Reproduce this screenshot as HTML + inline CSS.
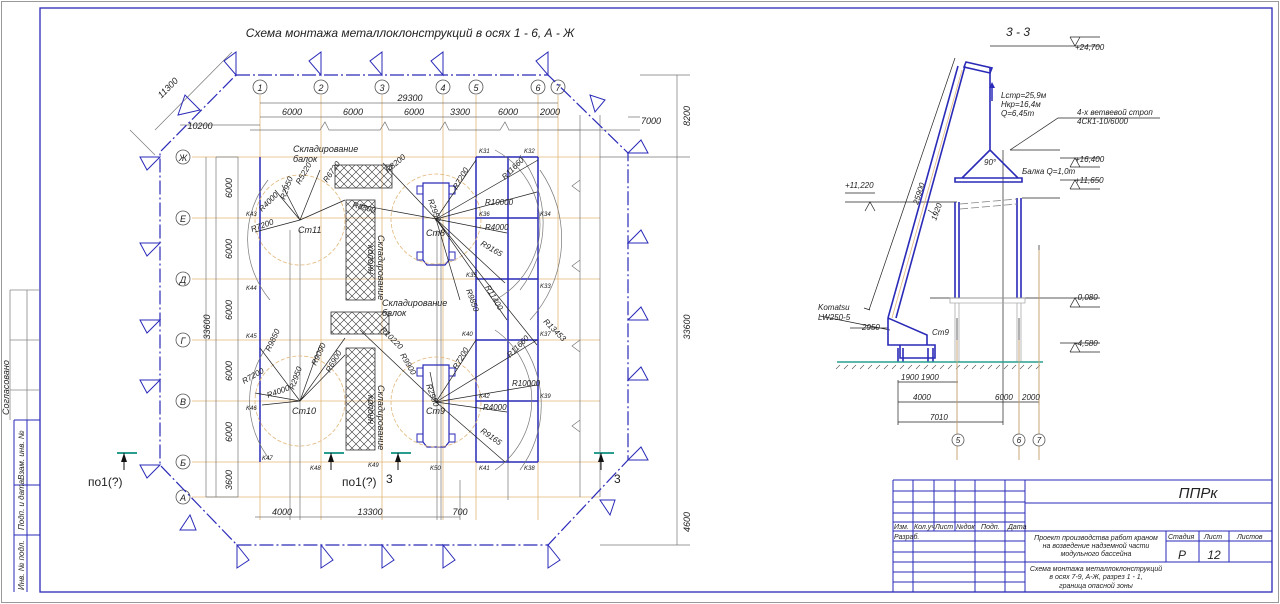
<!DOCTYPE html>
<html><head><meta charset="utf-8"><style>
html,body{margin:0;padding:0;background:#fff}
svg{display:block}
text{font-family:"Liberation Sans","DejaVu Sans",sans-serif;font-style:italic;fill:#222}
.b{stroke:#2a2ab8;fill:none}
.g{stroke:#777;fill:none;stroke-width:0.7}
.o{stroke:#e2b77a;fill:none;stroke-width:0.8}
.k{stroke:#222;fill:none;stroke-width:0.7}
</style></head><body>
<svg width="1280" height="604" viewBox="0 0 1280 604" xmlns="http://www.w3.org/2000/svg">
<defs>
<pattern id="h" width="8" height="8" patternUnits="userSpaceOnUse"><path d="M0 0L8 8M8 0L0 8" stroke="#333" stroke-width="0.6"/></pattern>
</defs>
<rect x="1.5" y="1.5" width="1277" height="601" fill="none" stroke="#999"/>
<rect x="40" y="8" width="1232" height="584" class="b" stroke-width="1.3"/>
<!-- left strip -->
<g stroke="#888" fill="none" stroke-width="0.8"><path d="M10 290H40M10 290V420M27 290V420M10 340H40M10 390H40"/></g>
<g class="b" stroke-width="1"><path d="M14 420H40M14 420V592M27 420V592M14 485H40M14 535H40"/></g>
<text transform="translate(9,415) rotate(-90)" font-size="9">Согласовано</text>
<text transform="translate(24,480) rotate(-90)" font-size="8">Взам. инв. №</text>
<text transform="translate(24,530) rotate(-90)" font-size="8">Подп. и дата</text>
<text transform="translate(24,590) rotate(-90)" font-size="8">Инв. № подл.</text>

<!-- title -->
<text x="410" y="37" font-size="12" text-anchor="middle">Схема монтажа металлоклонструкций в осях 1 - 6, А - Ж</text>

<!-- axis grid orange -->
<g class="o">
<path d="M260 95V520M321 95V520M382 95V520M443 95V520M476 95V520M538 95V520M558 95V330"/>
<path d="M192 157H600M192 218H600M192 279H600M192 340H600M192 401H600M192 462H600M192 497H600"/>
</g>
<!-- grey grid lines -->
<g class="g">
<path d="M216 157V497M238 157V497M290 230V520M300 230V520M437 230V520M441 230V520M460 480V520M508 160V500"/>
<path d="M580 115V497M600 115V497"/>
<path d="M580 180l-8 6 8 6M580 260l-8 6 8 6M580 340l-8 6 8 6M580 420l-8 6 8 6"/>
<path d="M250 130H320l5-8 4 8H380l5-8 4 8H440l5-8 4 8H500l5-8 4 8H580"/>
<path d="M260 103H558M260 117H558M180 125H260M558 130H640M628 117H640"/>
<path d="M206 157V497M216 157H238M206 497H238M677 75V157M677 157V497M677 497V545M640 75H690M600 157H690M600 545H690"/>
<path d="M255 517H460"/>
<path d="M155 130L232 52M130 130L155 155"/>
</g>
<!-- axis circles -->
<g stroke="#555" fill="#fff" stroke-width="0.8">
<circle cx="260" cy="87" r="7"/><circle cx="321" cy="87" r="7"/><circle cx="382" cy="87" r="7"/><circle cx="443" cy="87" r="7"/><circle cx="476" cy="87" r="7"/><circle cx="538" cy="87" r="7"/><circle cx="558" cy="87" r="7"/>
<circle cx="183" cy="157" r="7"/><circle cx="183" cy="218" r="7"/><circle cx="183" cy="279" r="7"/><circle cx="183" cy="340" r="7"/><circle cx="183" cy="401" r="7"/><circle cx="183" cy="462" r="7"/><circle cx="183" cy="497" r="7"/>
</g>
<g font-size="9" text-anchor="middle">
<text x="260" y="91">1</text><text x="321" y="91">2</text><text x="382" y="91">3</text><text x="443" y="91">4</text><text x="476" y="91">5</text><text x="538" y="91">6</text><text x="558" y="91">7</text>
<text x="183" y="161">Ж</text><text x="183" y="222">Е</text><text x="183" y="283">Д</text><text x="183" y="344">Г</text><text x="183" y="405">В</text><text x="183" y="466">Б</text><text x="183" y="501">А</text>
</g>
<!-- dimension text -->
<g font-size="9" text-anchor="middle">
<text x="410" y="101">29300</text>
<text x="292" y="115">6000</text><text x="353" y="115">6000</text><text x="414" y="115">6000</text><text x="460" y="115">3300</text><text x="508" y="115">6000</text><text x="550" y="115">2000</text>
<text x="200" y="129">10200</text><text x="651" y="124">7000</text>
<text transform="translate(170,90) rotate(-45)">11300</text>
<text transform="translate(690,116) rotate(-90)">8200</text>
<text transform="translate(210,327) rotate(-90)">33600</text>
<text transform="translate(690,327) rotate(-90)">33600</text>
<text transform="translate(690,522) rotate(-90)">4600</text>
<text transform="translate(232,188) rotate(-90)">6000</text><text transform="translate(232,249) rotate(-90)">6000</text><text transform="translate(232,310) rotate(-90)">6000</text><text transform="translate(232,371) rotate(-90)">6000</text><text transform="translate(232,432) rotate(-90)">6000</text><text transform="translate(232,480) rotate(-90)">3600</text>
<text x="282" y="515">4000</text><text x="370" y="515">13300</text><text x="460" y="515">700</text>
</g>

<!-- danger boundary -->
<g class="b" stroke-width="1.2" stroke-dasharray="14 3 2 3">
<path d="M236 75H548L628 153V460L548 545H237L160 465V152Z"/>
</g>
<g class="b" stroke-width="1">
<path d="M236 75V52L224 61Z M321 75V52L309 61Z M382 75V52L370 61Z M443 75V52L431 61Z M548 75V52L536 61Z"/>
<path d="M237 545V568L249 560Z M321 545V568L333 560Z M382 545V568L394 560Z M443 545V568L455 560Z M548 545V568L560 560Z"/>
<path d="M160 157H140L147 170Z M160 243H140L147 256Z M160 320H140L147 333Z M160 380H140L147 393Z M160 465H140L147 478Z"/>
<path d="M628 153H648L641 140Z M628 243H648L641 230Z M628 320H648L641 307Z M628 380H648L641 367Z M628 460H648L641 447Z"/>
<path d="M200 110L185 95L178 115Z M190 515L180 530L196 530Z M605 100L590 95L595 112Z M610 515L600 500L615 500Z"/>
</g>

<!-- building blue -->
<g class="b" stroke-width="1.5">
<path d="M260 157V462M476 157V462M508 157V462M538 157V462M476 157H538M476 218H538M476 279H538M476 340H538M476 401H538M476 462H538"/>
<path d="M423 183H449V260L445 265H427L423 260Z M423 365H449V442L445 447H427L423 442Z" stroke-width="1.2"/>
<path d="M417 186h6v8h-6zM449 186h6v8h-6zM417 252h6v8h-6zM449 252h6v8h-6zM417 368h6v8h-6zM449 368h6v8h-6zM417 434h6v8h-6zM449 434h6v8h-6z" stroke-width="1"/>
</g>
<!-- storage hatched -->
<g stroke="#333" stroke-width="0.8">
<rect x="335" y="165" width="57" height="23" fill="url(#h)"/>
<rect x="346" y="200" width="29" height="100" fill="url(#h)"/>
<rect x="331" y="312" width="58" height="22" fill="url(#h)"/>
<rect x="346" y="348" width="29" height="102" fill="url(#h)"/>
</g>
<!-- crane radii circles -->
<g class="o" stroke-dasharray="4 2">
<circle cx="300" cy="220" r="45"/><circle cx="436" cy="219" r="45"/><circle cx="300" cy="401" r="45"/><circle cx="436" cy="402" r="45"/>
</g>
<g class="g">
<path d="M268 180A95 95 0 0 0 270 300M268 345A95 95 0 0 0 270 460"/>
<path d="M495 150A85 85 0 0 1 495 300M520 155A110 110 0 0 1 520 290M540 170A120 120 0 0 1 530 320"/>
<path d="M495 330A85 85 0 0 1 495 470M520 340A110 110 0 0 1 520 470"/>
</g>
<!-- radius lines -->
<g class="k">
<path d="M300 220L255 232M300 220L275 190M300 220L282 185M300 220L320 170M300 220L345 200"/>
<path d="M436 219L383 163M436 219L476 160M436 219L538 160M436 219L537 192M436 219L507 233M436 219L505 283M436 219L460 300M436 219L507 320M436 219L537 345M436 219L360 205"/>
<path d="M300 401L260 348M300 401L255 393M300 401L262 405M300 401L345 338M300 401L345 355M300 401L320 345"/>
<path d="M436 402L360 330M436 402L476 340M436 402L537 340M436 402L537 385M436 402L507 412M436 402L505 462M436 402L430 372"/>
</g>
<!-- small radius labels -->
<g font-size="8">
<text transform="translate(252,232) rotate(-20)">R7200</text>
<text transform="translate(262,212) rotate(-45)">R4000</text>
<text transform="translate(285,200) rotate(-70)">R2950</text>
<text transform="translate(300,185) rotate(-60)">R5220</text>
<text transform="translate(327,183) rotate(-55)">R6720</text>
<text transform="translate(388,173) rotate(-40)">R8200</text>
<text transform="translate(352,207) rotate(15)">R8800</text>
<text transform="translate(457,190) rotate(-60)">R7200</text>
<text transform="translate(505,180) rotate(-45)">R11660</text>
<text transform="translate(485,205)">R10000</text>
<text transform="translate(485,230)">R4000</text>
<text transform="translate(480,245) rotate(30)">R9165</text>
<text transform="translate(466,290) rotate(70)">R9850</text>
<text transform="translate(485,287) rotate(60)">R11400</text>
<text transform="translate(543,322) rotate(45)">R13453</text>
<text transform="translate(270,352) rotate(-65)">R9850</text>
<text transform="translate(244,384) rotate(-30)">R7200</text>
<text transform="translate(268,398) rotate(-20)">R4000</text>
<text transform="translate(294,390) rotate(-70)">R2950</text>
<text transform="translate(316,366) rotate(-65)">R9090</text>
<text transform="translate(330,373) rotate(-60)">R6900</text>
<text transform="translate(380,330) rotate(45)">R10220</text>
<text transform="translate(400,355) rotate(60)">R9900</text>
<text transform="translate(457,370) rotate(-60)">R7200</text>
<text transform="translate(510,358) rotate(-45)">R11660</text>
<text transform="translate(512,386)">R10000</text>
<text transform="translate(483,410)">R4000</text>
<text transform="translate(480,432) rotate(35)">R9165</text>
<text transform="translate(428,200) rotate(70)">R2950</text>
<text transform="translate(426,385) rotate(70)">R2950</text>
</g>
<g font-size="9">
<text x="298" y="233">Ст11</text><text x="426" y="236">Ст8</text><text x="292" y="414">Ст10</text><text x="426" y="414">Ст9</text>
<text x="293" y="152">Складирование</text><text x="293" y="162">балок</text>
<text x="382" y="306">Складирование</text><text x="382" y="316">балок</text>
<text transform="translate(378,235) rotate(90)">Складирование</text><text transform="translate(368,245) rotate(90)">колонн</text>
<text transform="translate(378,385) rotate(90)">Складирование</text><text transform="translate(368,395) rotate(90)">колонн</text>
</g>
<g font-size="6">
<text x="479" y="153">K31</text><text x="524" y="153">K32</text><text x="479" y="216">K36</text><text x="540" y="216">K34</text><text x="466" y="277">K35</text><text x="540" y="288">K33</text>
<text x="462" y="336">K40</text><text x="540" y="336">K37</text><text x="479" y="398">K42</text><text x="540" y="398">K39</text><text x="479" y="470">K41</text><text x="524" y="470">K38</text>
<text x="246" y="216">K43</text><text x="246" y="290">K44</text><text x="246" y="338">K45</text><text x="246" y="410">K46</text><text x="262" y="460">K47</text><text x="310" y="470">K48</text><text x="368" y="467">K49</text><text x="430" y="470">K50</text>
</g>
<!-- section markers -->
<g stroke="#2a9d8f" stroke-width="2"><path d="M117 453H137M324 453H344M391 453H411M594 453H614"/></g>
<g stroke="#111" stroke-width="1"><path d="M124 453V470M331 453V470M398 453V470M601 453V470"/></g>
<g fill="#111"><path d="M124 453l-3 9h6zM331 453l-3 9h6zM398 453l-3 9h6zM601 453l-3 9h6z"/></g>
<g font-size="12" font-style="normal"><text x="88" y="486" style="font-style:normal">по1(?)</text><text x="342" y="486" style="font-style:normal">по1(?)</text><text x="386" y="483" style="font-style:normal">3</text><text x="614" y="483" style="font-style:normal">3</text></g>

<!-- SECTION 3-3 -->
<text x="1018" y="36" font-size="12" text-anchor="middle">3 - 3</text>
<g class="k">
<path d="M1060 46H1100M1060 158H1100M1060 180H1100M1060 298H1100M1060 343H1100M1060 46H990M1010 150H1060M1022 198H1060M930 298H1060M845 202H957"/>
<path d="M1070 37l5 9 5-9M1070 167l5-9 5 9M1070 189l5-9 5 9M1070 307l5-9 5 9M1070 352l5-9 5 9M865 211l5-9 5 9"/>
<path d="M1070 37H1100M1070 167H1100M1070 189H1100M1070 307H1100M1070 352H1100M845 193H875"/>
<path d="M957 318V460M1019 318V460M1039 245V460M1003 150V425"/>
<path d="M898 382H958M898 402H1039M898 422H1003M898 380V425M1039 395V405"/>
<path d="M869 310L955 58M870 310L864 308M928 210L936 215"/>
<path d="M820 316L890 330M850 328H888M1010 150L1058 118H1160"/>
</g>
<g stroke="#2a2ab8" fill="none" stroke-width="1.6">
<path d="M888 318L958 66M896 318L965 66"/>
<path d="M966 62L992 68L990 73L964 67Z"/>
<path d="M990 68V150M962 178L990 150L1018 178ZM955 178H1022V182H955Z"/>
<path d="M955 202V298M959 202V298M1017 198V298M1021 198V298"/>
<path d="M888 318V345H927V335L888 318M900 345H935V358H900ZM898 348V362M903 348V362M928 348V362M933 348V362"/>
</g>
<path d="M992 101V85" stroke="#2a2ab8" stroke-width="1.5"/><path d="M989 88l3-6 3 6z" fill="#2a2ab8"/>
<g stroke="#888" stroke-dasharray="8 3" stroke-width="0.8"><path d="M960 204L1017 199M960 209L1017 204"/></g>
<g stroke="#aaa" fill="none" stroke-width="0.8"><path d="M950 298H1025V303H950ZM955 303V362M959 303V362M1017 303V362M1021 303V362"/></g>
<path d="M837 362H1043" stroke="#2a9d8f" stroke-width="1.6"/>
<path d="M840 365l-4 4M848 365l-4 4M856 365l-4 4M864 365l-4 4M872 365l-4 4M880 365l-4 4M888 365l-4 4M896 365l-4 4M904 365l-4 4M912 365l-4 4M920 365l-4 4M928 365l-4 4M936 365l-4 4M944 365l-4 4M952 365l-4 4M960 365l-4 4M968 365l-4 4M976 365l-4 4M984 365l-4 4M992 365l-4 4M1000 365l-4 4M1008 365l-4 4M1016 365l-4 4M1024 365l-4 4M1032 365l-4 4M1040 365l-4 4" stroke="#555" stroke-width="0.6"/>
<g stroke="#e2b77a" stroke-width="0.8"><path d="M962 70L892 318M957 340V460M1019 340V460M1039 250V460"/></g>
<g stroke="#555" fill="#fff" stroke-width="0.8"><circle cx="958" cy="440" r="6"/><circle cx="1019" cy="440" r="6"/><circle cx="1039" cy="440" r="6"/></g>
<g font-size="8">
<text x="958" y="443" text-anchor="middle">5</text><text x="1019" y="443" text-anchor="middle">6</text><text x="1039" y="443" text-anchor="middle">7</text>
<text x="1075" y="50">+24,700</text><text x="1075" y="162">+16,400</text><text x="1075" y="183">+11,650</text><text x="1075" y="300">-0,080</text><text x="1075" y="346">-4,580</text><text x="845" y="188">+11,220</text>
<text x="1001" y="98">Lстр=25,9м</text><text x="1001" y="107">Hкр=16,4м</text><text x="1001" y="116">Q=6,45т</text>
<text x="1077" y="115">4-х ветвевой строп</text><text x="1077" y="124">4СК1-10/6000</text>
<text x="1022" y="174">Балка Q=1,0т</text><text x="984" y="165">90°</text>
<text transform="translate(918,205) rotate(-72)">25900</text>
<text transform="translate(936,221) rotate(-70)">1920</text>
<text x="818" y="310">Komatsu</text><text x="818" y="320">LW250-5</text>
<text x="862" y="330">2950</text><text x="932" y="335">Ст9</text>
<text x="901" y="380">1900</text><text x="921" y="380">1900</text>
<text x="913" y="400">4000</text><text x="995" y="400">6000</text><text x="1022" y="400">2000</text><text x="930" y="420">7010</text>
</g>

<!-- TITLE BLOCK -->
<g class="b" stroke-width="1">
<path d="M893 480H1272M893 480V592M913 480V592M934 480V531M955 480V531M975 480V592M1005 480V592M1025 480V592"/>
<path d="M893 491H1025M893 502H1025M893 513H1025M893 522H1025M893 531H1272M893 541H1025M893 552H1025M893 562H1272M893 572H1025M893 582H1025M1025 503H1272"/>
<path d="M1166 531V562M1199 531V562M1229 531V562M1166 541H1272"/>
</g>
<g font-size="7">
<text x="894" y="529">Изм.</text><text x="914" y="529">Кол.уч</text><text x="935" y="529">Лист</text><text x="956" y="529">№док</text><text x="981" y="529">Подп.</text><text x="1008" y="529">Дата</text>
<text x="894" y="539">Разраб.</text>
<text x="1096" y="540" text-anchor="middle">Проект производства работ краном</text>
<text x="1096" y="548" text-anchor="middle">на возведение надземной части</text>
<text x="1096" y="556" text-anchor="middle">модульного бассейна</text>
<text x="1096" y="571" text-anchor="middle">Схема монтажа металлоклонструкций</text>
<text x="1096" y="579" text-anchor="middle">в осях 7-9, А-Ж, разрез 1 - 1,</text>
<text x="1096" y="588" text-anchor="middle">граница опасной зоны</text>
<text x="1168" y="539">Стадия</text><text x="1204" y="539">Лист</text><text x="1237" y="539">Листов</text>
</g>
<text x="1182" y="559" font-size="12" text-anchor="middle">Р</text>
<text x="1214" y="559" font-size="12" text-anchor="middle">12</text>
<text x="1198" y="498" font-size="15" text-anchor="middle">ППРк</text>
</svg>
</body></html>
